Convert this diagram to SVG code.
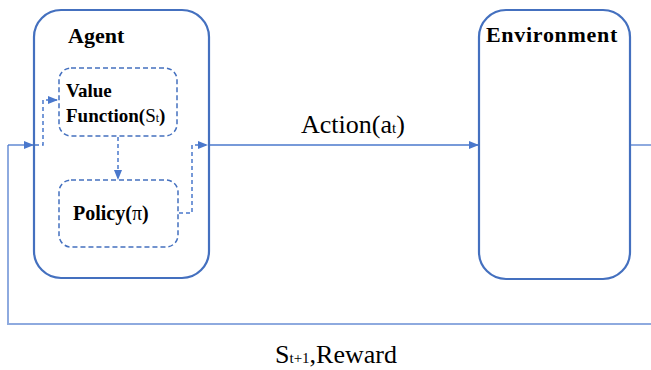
<svg xmlns="http://www.w3.org/2000/svg" width="651" height="370" viewBox="0 0 651 370">
<defs>
<style>
.box{fill:none;stroke:#4470BF;stroke-width:2.2}
.dbox{fill:none;stroke:#4470BF;stroke-width:1.5;stroke-dasharray:5 3}
.line{fill:none;stroke:#4A78CC;stroke-width:1.3}
.fb{fill:none;stroke:#8EAADF;stroke-width:2}
.dl{fill:none;stroke:#4A78CC;stroke-width:1.5;stroke-dasharray:4 3}
text{font-family:"Liberation Serif","Times New Roman","DejaVu Serif",serif;fill:#000}
.bt{font-weight:bold}
</style>
<marker id="ah" markerWidth="10" markerHeight="8" refX="9" refY="4" orient="auto" markerUnits="userSpaceOnUse">
<path d="M0,0 L10,4 L0,8 Z" fill="#4A78CC"/>
</marker>
</defs>
<rect width="651" height="370" fill="#fff"/>
<g id="connectors">
<path class="fb" d="M651,324 H8 V145"/>
<path class="line" d="M8,145 H33" marker-end="url(#ah)"/>
<path class="dl" d="M35,145 H43 V100 H57" marker-end="url(#ah)"/>
<path class="dl" d="M118,137 V179" marker-end="url(#ah)"/>
<path class="dl" d="M179,213 H192 V145 H207" marker-end="url(#ah)"/>
<path class="line" d="M209,145 H478" marker-end="url(#ah)"/>
<path class="fb" d="M631,145 H651"/>
</g>
<g id="agent">
<rect class="box" x="34" y="10" width="175" height="268" rx="27"/>
<text class="bt" x="68" y="43" font-size="22" font-family="Liberation Serif, serif">Agent</text>
</g>
<g id="value-function">
<rect class="dbox" x="59" y="68" width="118" height="68" rx="12"/>
<text class="bt" x="66" y="97" font-size="19" font-family="Liberation Serif, serif">Value</text>
<text class="bt" x="66" y="122" font-size="19" font-family="Liberation Serif, serif">Function(<tspan font-weight="normal">S</tspan><tspan font-weight="normal" font-size="12">t</tspan>)</text>
</g>
<g id="policy">
<rect class="dbox" x="59" y="180" width="119" height="67" rx="12"/>
<text class="bt" x="73" y="220" font-size="20" font-family="Liberation Serif, serif">Policy(<tspan font-weight="normal">π</tspan>)</text>
</g>
<g id="environment">
<rect class="box" x="479" y="10" width="151" height="269" rx="27"/>
<text class="bt" x="486" y="42" font-size="22" letter-spacing="0.7" font-family="Liberation Serif, serif">Environment</text>
</g>
<text x="301" y="133" font-size="26" font-family="Liberation Serif, serif">Action(a<tspan font-size="15">t</tspan>)</text>
<text x="275" y="363" font-size="26" font-family="Liberation Serif, serif">S<tspan font-size="15">t+1</tspan>,Reward</text>
</svg>
